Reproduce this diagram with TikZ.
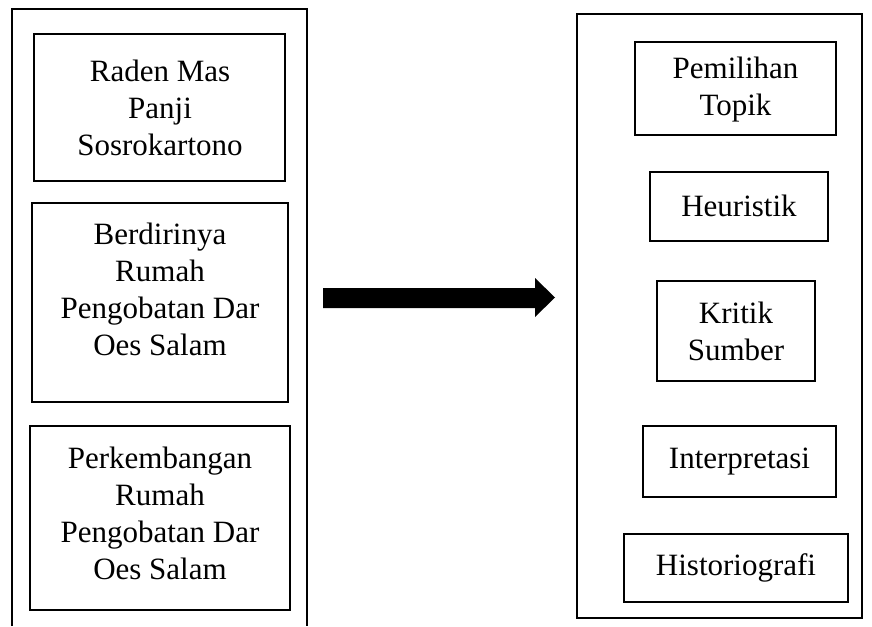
\documentclass[tikz,border=0pt]{standalone}
\usepackage{fontspec}
\setmainfont{Liberation Serif}
\begin{document}
\begin{tikzpicture}[x=1pt,y=-1pt,
  frame/.style={draw=black,line width=2.6pt},
  boxnode/.style={draw=black,line width=2.6pt,inner sep=0pt,minimum width=#1},
  txt/.style={align=center,inner sep=0pt,font=\fontsize{31}{37}\selectfont}]
\useasboundingbox (0,0) rectangle (872,626);
% left outer frame (open at bottom)
\draw[frame] (12,626) -- (12,9) -- (307,9) -- (307,626);
% right outer frame
\draw[frame] (577,14) rectangle (862,618);
% left boxes
\draw[frame] (34,34) rectangle (285,181);
\draw[frame] (32,203) rectangle (288,402);
\draw[frame] (30,426) rectangle (290,610);
\node[txt] (t1) at (160,107.5) {Raden Mas\\Panji\\Sosrokartono};
\node[txt] (t2) at (160,289) {Berdirinya\\Rumah\\Pengobatan Dar\\Oes Salam};
\node[txt] (t3) at (160,513) {Perkembangan\\Rumah\\Pengobatan Dar\\Oes Salam};
% right boxes
\draw[frame] (635,42) rectangle (836,135);
\draw[frame] (650,172) rectangle (828,241);
\draw[frame] (657,281) rectangle (815,381);
\draw[frame] (643,426) rectangle (836,497);
\draw[frame] (624,534) rectangle (848,602);
\node[txt] (r1) at (735.5,90) {Pemilihan\\Topik};
\node[txt] (r2) at (739,206) {Heuristik};
\node[txt] (r3) at (736,331) {Kritik\\Sumber};
\node[txt] (r4) at (739.5,461.5) {Interpretasi};
\node[txt] (r5) at (736,568) {Historiografi};
% big arrow
\coordinate (as) at (323,298);
\coordinate (ae) at (555,297.5);
\fill[black] (323,288) -- (535,288) -- (535,278) -- (555,297.5) -- (535,317) -- (535,308) -- (323,308) -- cycle;
\end{tikzpicture}
\end{document}
